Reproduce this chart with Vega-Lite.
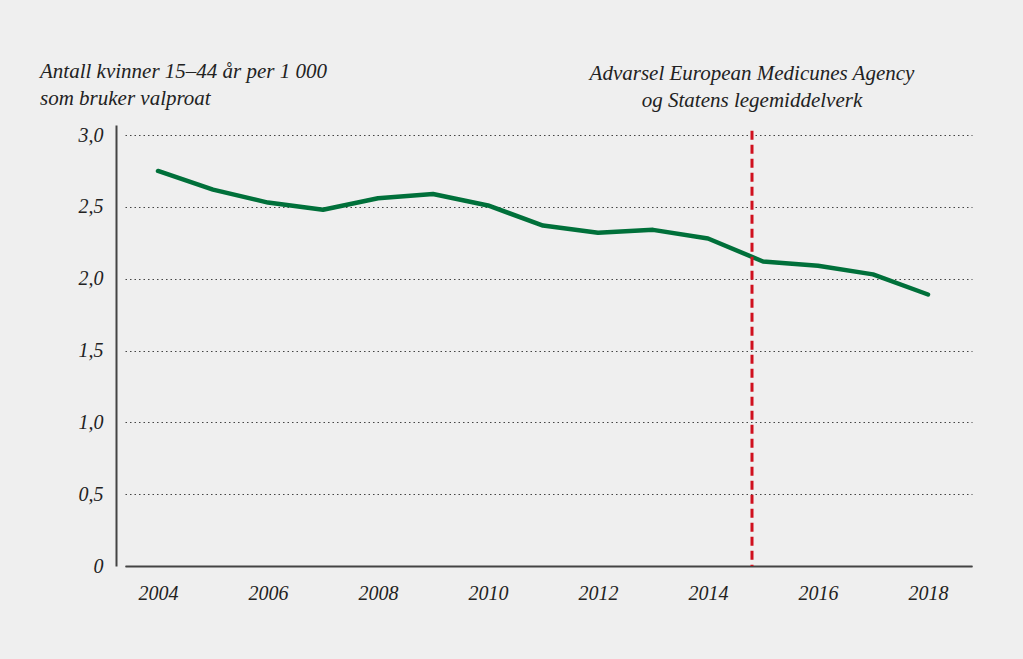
{
  "$schema": "https://vega.github.io/schema/vega-lite/v6.json",
  "width": 847,
  "height": 441,
  "autosize": {"type": "none"},
  "padding": {"left": 125, "top": 125, "right": 51, "bottom": 93},
  "background": "#efefef",
  "config": {
    "view": {"stroke": null},
    "font": "Liberation Serif"
  },
  "datasets": {
    "series": [
      {"year": 2004, "value": 2.75},
      {"year": 2005, "value": 2.62},
      {"year": 2006, "value": 2.53},
      {"year": 2007, "value": 2.48},
      {"year": 2008, "value": 2.56},
      {"year": 2009, "value": 2.59},
      {"year": 2010, "value": 2.51},
      {"year": 2011, "value": 2.37},
      {"year": 2012, "value": 2.32},
      {"year": 2013, "value": 2.34},
      {"year": 2014, "value": 2.28},
      {"year": 2015, "value": 2.12},
      {"year": 2016, "value": 2.09},
      {"year": 2017, "value": 2.03},
      {"year": 2018, "value": 1.89}
    ],
    "marker": [
      {"year": 2014.8, "top": 3.03, "bottom": 0, "labelY": 3.07, "label": "Advarsel European Medicunes Agency\nog Statens legemiddelverk"}
    ],
    "ytitle": [
      {"x": 2003.4, "y": 3.07, "label": "Antall kvinner 15–44 år per 1 000\nsom bruker valproat"}
    ]
  },
  "layer": [
    {
      "data": {"name": "series"},
      "mark": {"type": "line", "color": "#00703a", "strokeWidth": 4.5, "strokeJoin": "round", "strokeCap": "round"},
      "encoding": {
        "x": {
          "field": "year", "type": "quantitative",
          "scale": {"domain": [2003.4, 2018.8], "nice": false, "zero": false},
          "axis": {
            "title": null,
            "values": [2004, 2006, 2008, 2010, 2012, 2014, 2016, 2018],
            "format": "d",
            "grid": false,
            "ticks": false,
            "domainColor": "#444",
            "domainWidth": 2,
            "labelFont": "Liberation Serif",
            "labelFontStyle": "italic",
            "labelFontSize": 20,
            "labelColor": "#222",
            "labelPadding": 17
          }
        },
        "y": {
          "field": "value", "type": "quantitative",
          "scale": {"domain": [0, 3.07], "nice": false},
          "axis": {
            "title": null,
            "values": [0, 0.5, 1, 1.5, 2, 2.5, 3],
            "labelExpr": "datum.value == 0 ? '0' : replace(format(datum.value, '.1f'), '.', ',')",
            "offset": 9,
            "ticks": false,
            "domainColor": "#444",
            "domainWidth": 2,
            "grid": true,
            "gridDash": [1.5, 3],
            "gridColor": "#444",
            "gridWidth": 1.2,
            "labelFont": "Liberation Serif",
            "labelFontStyle": "italic",
            "labelFontSize": 20,
            "labelColor": "#222",
            "labelPadding": 13
          }
        }
      }
    },
    {
      "data": {"name": "marker"},
      "mark": {"type": "rule", "color": "#d0101e", "strokeWidth": 3, "strokeDash": [9, 5]},
      "encoding": {
        "x": {"field": "year", "type": "quantitative"},
        "y": {"field": "top", "type": "quantitative"},
        "y2": {"field": "bottom"}
      }
    },
    {
      "data": {"name": "marker"},
      "mark": {"type": "text", "align": "center", "baseline": "alphabetic", "lineBreak": "\n", "lineHeight": 27, "dy": -45, "fontStyle": "italic", "fontSize": 21, "font": "Liberation Serif", "color": "#222"},
      "encoding": {
        "x": {"field": "year", "type": "quantitative"},
        "y": {"field": "labelY", "type": "quantitative"},
        "text": {"field": "label"}
      }
    },
    {
      "data": {"name": "ytitle"},
      "mark": {"type": "text", "align": "left", "baseline": "alphabetic", "lineBreak": "\n", "lineHeight": 27, "dx": -85, "dy": -47, "fontStyle": "italic", "fontSize": 21, "font": "Liberation Serif", "color": "#222"},
      "encoding": {
        "x": {"field": "x", "type": "quantitative"},
        "y": {"field": "y", "type": "quantitative"},
        "text": {"field": "label"}
      }
    }
  ]
}
